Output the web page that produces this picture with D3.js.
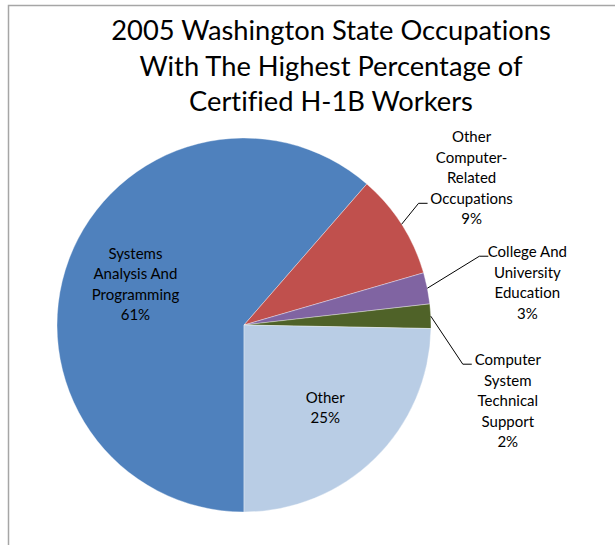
<!DOCTYPE html>
<html>
<head>
<meta charset="utf-8">
<script src="https://cdn.jsdelivr.net/npm/d3@7"></script>
<style>
  html, body { margin: 0; padding: 0; background: #fff; }
  text { font-family: Lato, "Open Sans", sans-serif; fill: #000; font-variant-ligatures: none; }
</style>
</head>
<body>
<div class="pie-chart"></div>
<script>
// chart data
var titleLines = ["2005 Washington State Occupations", "With The Highest Percentage of", "Certified H-1B Workers"];

var categories = ["Systems Analysis And Programming", "Other Computer-Related Occupations",
	"College And University Education", "Computer System Technical Support", "Other"];

var values = [61.4, 9.1, 2.7, 2.1, 24.7];

var labelLines = [
	["Systems", "Analysis And", "Programming"],
	["Other", "Computer-", "Related", "Occupations"],
	["College And", "University", "Education"],
	["Computer", "System", "Technical", "Support"],
	["Other"]
];

var colors = ["#4F81BD", "#C0504D", "#8064A2", "#4F6228", "#B9CDE5"];

var DEFAULTS = {
	width : 615,
	height : 545,
	cx : 244,
	cy : 325,
	radius : 187,
	line_height : 20.5,
	label_size : 15,
	title_size : 27.3
};

// outside labels were dragged by hand in the original; offsets from the slice edge
var outside = {
	1 : { elbow : [17, -21], text : [70, -82] },
	2 : { elbow : [52, -32], text : [100, -31] },
	3 : { elbow : [32, 48], text : [77, 49] }
};

var svg = d3.select(".pie-chart").append("svg")
	.attr("width", DEFAULTS.width)
	.attr("height", DEFAULTS.height);

// chart area border (runs off the page on the right and bottom)
svg.append("rect")
	.attr("x", 8.5).attr("y", 5.5)
	.attr("width", 800).attr("height", 800)
	.attr("fill", "none")
	.attr("stroke", "#a6a6a6")
	.attr("stroke-width", 1.5);

svg.append("g").selectAll("text")
	.data(titleLines)
	.enter().append("text")
	.attr("x", 331)
	.attr("y", function (d, i) { return 40 + i * 35.5; })
	.attr("text-anchor", "middle")
	.style("font-size", DEFAULTS.title_size + "px")
	.text(function (d) { return d; });

var data = categories.map(function (c, i) {
	return { name : c, value : values[i], lines : labelLines[i], color : colors[i], index : i };
});

var total = d3.sum(values);
var pct = d3.format(".0%");

var pie = d3.pie()
	.sort(null)
	.value(function (d) { return d.value; })
	.startAngle(Math.PI)
	.endAngle(3 * Math.PI);

var arc = d3.arc().innerRadius(0).outerRadius(DEFAULTS.radius);
var edgeArc = d3.arc().innerRadius(DEFAULTS.radius).outerRadius(DEFAULTS.radius);
var labelArc = d3.arc().innerRadius(DEFAULTS.radius * 0.62).outerRadius(DEFAULTS.radius * 0.62);

var arcs = pie(data);

var g = svg.append("g")
	.attr("transform", "translate(" + DEFAULTS.cx + "," + DEFAULTS.cy + ")");

g.selectAll(".slice")
	.data(arcs)
	.enter().append("path")
	.attr("class", "slice")
	.attr("d", arc)
	.attr("fill", function (d) { return d.data.color; })
	.attr("stroke", "#fff")
	.attr("stroke-opacity", 0.6)
	.attr("stroke-width", 0.6);

// leader lines
g.selectAll(".leader")
	.data(arcs.filter(function (d) { return outside[d.data.index]; }))
	.enter().append("polyline")
	.attr("class", "leader")
	.attr("fill", "none")
	.attr("stroke", "#000")
	.attr("stroke-width", 1)
	.attr("points", function (d) {
		var a = edgeArc.centroid(d), o = outside[d.data.index];
		var e = [a[0] + o.elbow[0], a[1] + o.elbow[1]];
		return [a, e, [e[0] + 9, e[1]]].map(function (p) { return p.join(","); }).join(" ");
	});

// labels
g.selectAll(".label")
	.data(arcs)
	.enter().append("text")
	.attr("class", "label")
	.attr("text-anchor", "middle")
	.style("font-size", DEFAULTS.label_size + "px")
	.each(function (d) {
		var lines = d.data.lines.concat([pct(d.data.value / total)]);
		var o = outside[d.data.index], x, y0;
		if (o) {
			var a = edgeArc.centroid(d);
			x = a[0] + o.text[0];
			y0 = a[1] + o.text[1];
		} else {
			var c = labelArc.centroid(d);
			x = c[0];
			y0 = c[1] - (lines.length - 1) * DEFAULTS.line_height / 2 + 5;
		}
		d3.select(this).selectAll("tspan")
			.data(lines)
			.enter().append("tspan")
			.attr("x", x)
			.attr("y", function (t, i) { return y0 + i * DEFAULTS.line_height; })
			.text(function (t) { return t; });
	});
</script>
</body>
</html>
